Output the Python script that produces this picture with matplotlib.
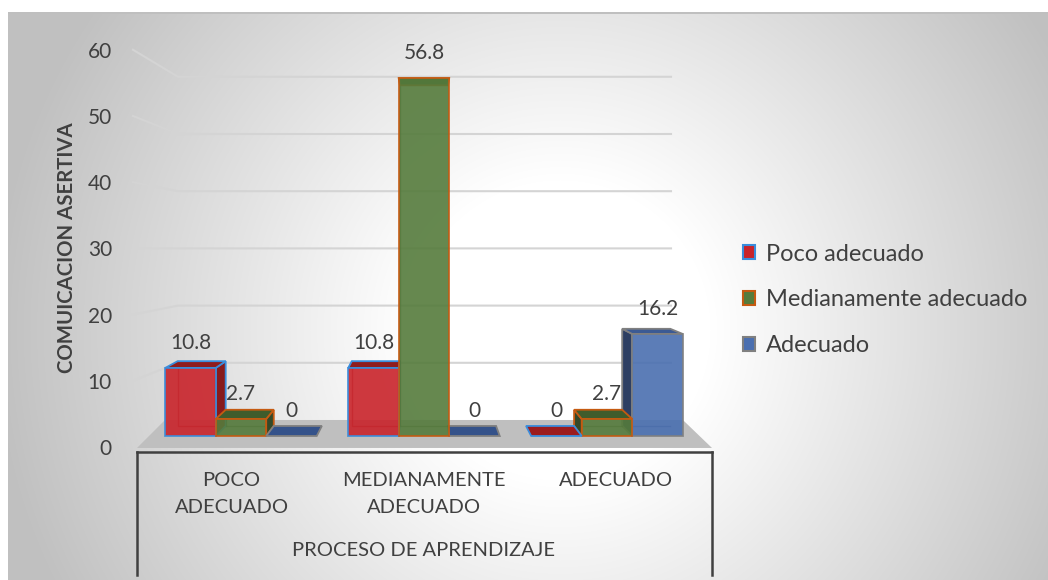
import numpy as np
import matplotlib
matplotlib.use("Agg")
import matplotlib.pyplot as plt
from matplotlib.patches import Polygon, Patch

plt.rcParams['font.family'] = ['Lato', 'DejaVu Sans']

# datos
categorias = ["POCO ADECUADO", "MEDIANAMENTE ADECUADO", "ADECUADO"]
etiquetas_x = ["POCO\nADECUADO", "MEDIANAMENTE\nADECUADO", "ADECUADO"]
series = ["Poco adecuado", "Medianamente adecuado", "Adecuado"]
poco = [10.8, 10.8, 0]
mediana = [2.7, 56.8, 2.7]
adecuado = [0, 0, 16.2]
yticks = [0, 10, 20, 30, 40, 50, 60]

valores = [poco, mediana, adecuado]
# (frente, tapa, lado, borde, plano en cero)
estilos = [
    ("#c9232a", "#8f1c1e", "#871b1d", "#3a8ddc", "#9c1c1e"),
    ("#557b3c", "#3f5c2c", "#33492a", "#c55a11", "#3f5c2c"),
    ("#4a6fb0", "#3b5a94", "#2d3f63", "#808080", "#34528a"),
]
gris = "#404040"

# perspectiva (en unidades de datos)
VX, VY, S = 1.0, 33.2, 0.952
LAB0, LABK = -1.746, 1.051        # plano de las etiquetas del eje
WALL0, WALLK = 2.54, 0.908        # pared del fondo
W = 0.276

fig = plt.figure(figsize=(10.48, 5.8), dpi=100)

# fondo con degradado radial
bg = fig.add_axes([0, 0, 1, 1], zorder=-5)
yy, xx = np.mgrid[0:580, 0:1048]
r = np.hypot(xx - 560, yy - 330)
g = np.clip(255 - (r - 150) * 63 / 420, 192, 255) / 255
img = np.dstack([g, g, g])
img[:12, :] = 1
img[:, :8] = 1
img[12:14, 8:] = 0.75
bg.imshow(img, aspect='auto', interpolation='bilinear')
bg.axis('off')

ax = fig.add_axes([137 / 1048, 1 - 452 / 580, 575 / 1048, 412 / 580])
ax.set_facecolor('none')
ax.set_xlim(-0.568, 2.574)
ax.set_ylim(-2.54, 62.86)

# lineas de division
for v in yticks[1:]:
    ax.plot([-0.59, -0.344, 2.35], [LAB0 + LABK * v, WALL0 + WALLK * v, WALL0 + WALLK * v],
            color="#d4d4d4", lw=1.5, clip_on=False, zorder=1)

# piso
ax.add_patch(Polygon([(-0.568, -1.9), (2.574, -1.9), (2.415, WALL0), (-0.415, WALL0)],
                     closed=True, color="#bfbfbf", lw=0, zorder=2))

x = np.arange(len(categorias))
barras = []
for k, vals in enumerate(valores):
    cont = ax.bar(x + (k - 1) * W, vals, width=W, color=estilos[k][0],
                  edgecolor=estilos[k][3], linewidth=1.3, alpha=0.9)
    for rect, v in zip(cont, vals):
        barras.append((rect, v, k))


def atras(px, py):
    return VX + (px - VX) * S, VY + (py - VY) * S


for rect, v, k in barras:
    frente, tapa, lado, borde, plano = estilos[k]
    x0 = rect.get_x()
    x1 = x0 + rect.get_width()
    xc = x0 + rect.get_width() / 2
    z = 10 - abs(xc - VX)
    rect.set_zorder(z)
    bx0, by0 = atras(x0, 0)
    bx1, byv = atras(x1, v)
    if v == 0:
        rect.set_visible(False)
        ax.add_patch(Polygon([(x0, 0), (x1, 0), (bx1, by0), (bx0, by0)], closed=True,
                             facecolor=plano, edgecolor=borde, lw=1.3, zorder=z))
        continue
    # aristas traseras vistas a traves
    ax.plot([bx0, bx0, bx1], [byv, by0, by0], color=lado, lw=1.0, alpha=0.6, zorder=z - 0.02)
    if xc < VX - 0.05:
        ax.add_patch(Polygon([(x1, 0), (x1, v), (bx1, byv), (bx1, by0)], closed=True,
                             facecolor=lado, edgecolor=borde, lw=1.3, zorder=z - 0.01))
    elif xc > VX + 0.05:
        ax.add_patch(Polygon([(x0, 0), (x0, v), (bx0, byv), (bx0, by0)], closed=True,
                             facecolor=lado, edgecolor=borde, lw=1.3, zorder=z - 0.01))
    ax.add_patch(Polygon([(x0, v), (x1, v), (bx1, byv), (bx0, byv)], closed=True,
                         facecolor=tapa, edgecolor=borde, lw=1.3, zorder=z - 0.01))

for rect, v, k in barras:
    ax.annotate(f"{v:g}", (rect.get_x() + rect.get_width() / 2, v), xytext=(0, 18),
                textcoords='offset points', ha='center', va='center',
                fontsize=15, color=gris, zorder=20)

# ejes
for s in ['top', 'right', 'left']:
    ax.spines[s].set_visible(False)
ax.spines['bottom'].set_color(gris)
ax.spines['bottom'].set_linewidth(1.8)
for xa in [0, 1]:
    ax.plot([xa, xa], [0, -0.2985], transform=ax.transAxes, color=gris, lw=1.8,
            clip_on=False, solid_capstyle='projecting')

ax.set_yticks([LAB0 + LABK * t for t in yticks], [str(t) for t in yticks])
ax.tick_params(axis='y', length=0, pad=18, labelsize=15, labelcolor=gris)
ax.set_xticks([VX + (i - VX) * LABK for i in x], etiquetas_x)
ax.tick_params(axis='x', length=0, pad=14.5, labelsize=14.5, labelcolor=gris)
for t in ax.get_xticklabels():
    t.set_linespacing(1.7)

fig.text(424 / 1048, 1 - 551 / 580, "PROCESO DE APRENDIZAJE", ha='center', va='center',
         fontsize=14.5, color=gris)
fig.text(67 / 1048, 1 - 248 / 580, "COMUICACION ASERTIVA", rotation=90, ha='center',
         va='center', fontsize=14.7, fontweight='bold', color=gris)

handles = [Patch(facecolor=e[0], edgecolor=e[3], linewidth=1.5) for e in estilos]
fig.legend(handles, series, loc='center left', bbox_to_anchor=(743 / 1048, 1 - 300 / 580),
           frameon=False, fontsize=17, handlelength=0.52, handleheight=0.52,
           handletextpad=0.45, labelspacing=1.05, borderaxespad=0, borderpad=0,
           labelcolor=gris)

fig.savefig("out.png", dpi=100)
